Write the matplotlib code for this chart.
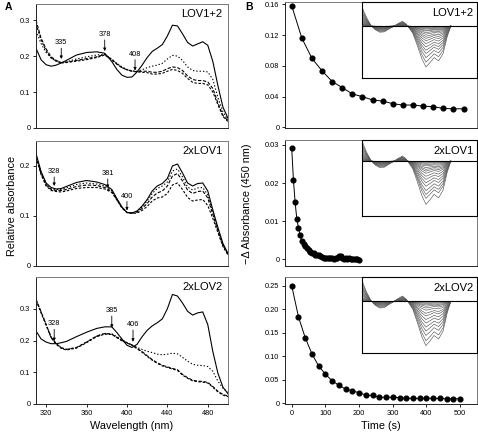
import matplotlib
matplotlib.use("Agg")
import matplotlib.pyplot as plt
import numpy as np

plt.rcParams['font.family'] = ['Liberation Sans', 'DejaVu Sans']

# ---- A: absorption spectra ----
wl = [310, 315, 320, 325, 330, 335, 340, 350, 360, 370, 378, 385, 390, 395, 400,
      405, 410, 415, 420, 425, 430, 435, 440, 445, 450, 455, 460, 465, 470, 475,
      480, 485, 490, 495, 500]

lov12_solid = [0.222, 0.190, 0.176, 0.172, 0.175, 0.181, 0.188, 0.203, 0.210, 0.212, 0.208, 0.185, 0.163, 0.147, 0.141,
               0.142, 0.156, 0.175, 0.196, 0.213, 0.222, 0.232, 0.256, 0.286, 0.284, 0.262, 0.238, 0.228, 0.234, 0.240,
               0.230, 0.185, 0.118, 0.058, 0.027]
lov12_dot = [0.270, 0.235, 0.210, 0.195, 0.186, 0.182, 0.184, 0.192, 0.198, 0.203, 0.205, 0.192, 0.180, 0.170, 0.163,
             0.159, 0.158, 0.162, 0.168, 0.172, 0.175, 0.180, 0.192, 0.202, 0.200, 0.188, 0.170, 0.160, 0.158, 0.158,
             0.156, 0.135, 0.085, 0.045, 0.022]
lov12_dashA = [0.300, 0.250, 0.220, 0.198, 0.188, 0.182, 0.183, 0.188, 0.193, 0.198, 0.205, 0.190, 0.178, 0.168, 0.162,
               0.158, 0.157, 0.158, 0.158, 0.155, 0.155, 0.158, 0.165, 0.170, 0.168, 0.160, 0.145, 0.135, 0.132, 0.132,
               0.128, 0.110, 0.070, 0.035, 0.020]
lov12_dashB = [0.290, 0.245, 0.215, 0.195, 0.186, 0.181, 0.182, 0.186, 0.190, 0.196, 0.203, 0.190, 0.178, 0.168, 0.162,
               0.158, 0.156, 0.155, 0.154, 0.150, 0.150, 0.152, 0.158, 0.163, 0.160, 0.152, 0.138, 0.127, 0.124, 0.124,
               0.120, 0.100, 0.065, 0.032, 0.018]

lov1_solid = [0.225, 0.189, 0.166, 0.157, 0.154, 0.155, 0.159, 0.167, 0.171, 0.168, 0.163, 0.153, 0.135, 0.118, 0.107,
              0.106, 0.110, 0.120, 0.133, 0.150, 0.160, 0.165, 0.175, 0.200, 0.204, 0.186, 0.166, 0.160, 0.165, 0.166,
              0.150, 0.112, 0.077, 0.045, 0.025]
lov1_dot = [0.222, 0.187, 0.164, 0.155, 0.153, 0.153, 0.156, 0.163, 0.166, 0.164, 0.160, 0.151, 0.134, 0.118, 0.107,
            0.106, 0.109, 0.118, 0.130, 0.145, 0.155, 0.160, 0.168, 0.190, 0.194, 0.178, 0.158, 0.152, 0.156, 0.157,
            0.142, 0.107, 0.074, 0.043, 0.024]
lov1_dashA = [0.220, 0.185, 0.162, 0.153, 0.151, 0.151, 0.153, 0.159, 0.162, 0.161, 0.157, 0.149, 0.133, 0.117, 0.107,
              0.106, 0.108, 0.115, 0.125, 0.138, 0.146, 0.150, 0.160, 0.180, 0.185, 0.170, 0.152, 0.145, 0.149, 0.150,
              0.136, 0.103, 0.071, 0.041, 0.023]
lov1_dashB = [0.218, 0.183, 0.160, 0.151, 0.149, 0.148, 0.150, 0.155, 0.157, 0.157, 0.154, 0.147, 0.132, 0.116, 0.107,
              0.105, 0.106, 0.111, 0.119, 0.130, 0.136, 0.138, 0.145, 0.162, 0.166, 0.153, 0.137, 0.130, 0.132, 0.133,
              0.121, 0.095, 0.067, 0.039, 0.022]

lov2_solid = [0.230, 0.205, 0.195, 0.190, 0.190, 0.193, 0.197, 0.212, 0.226, 0.238, 0.243, 0.243, 0.225, 0.205, 0.185,
              0.178, 0.188, 0.212, 0.232, 0.246, 0.256, 0.268, 0.300, 0.345, 0.340, 0.318, 0.292, 0.280, 0.287, 0.290,
              0.250, 0.165, 0.097, 0.053, 0.032]
lov2_dot = [0.330, 0.290, 0.252, 0.210, 0.190, 0.178, 0.172, 0.177, 0.195, 0.214, 0.222, 0.221, 0.212, 0.203, 0.193,
            0.186, 0.178, 0.172, 0.166, 0.162, 0.157, 0.155, 0.157, 0.160, 0.158, 0.147, 0.135, 0.125, 0.122, 0.121,
            0.118, 0.103, 0.072, 0.050, 0.037]
lov2_dashA = [0.330, 0.290, 0.250, 0.210, 0.190, 0.177, 0.172, 0.178, 0.195, 0.214, 0.222, 0.220, 0.210, 0.200, 0.193,
              0.186, 0.175, 0.165, 0.152, 0.140, 0.130, 0.122, 0.117, 0.112, 0.108, 0.093, 0.083, 0.075, 0.072, 0.071,
              0.068, 0.055, 0.040, 0.030, 0.025]
lov2_dashB = [0.327, 0.287, 0.248, 0.208, 0.188, 0.175, 0.170, 0.176, 0.193, 0.212, 0.220, 0.219, 0.209, 0.199, 0.192,
              0.185, 0.174, 0.163, 0.150, 0.138, 0.128, 0.120, 0.115, 0.110, 0.106, 0.091, 0.081, 0.073, 0.070, 0.069,
              0.066, 0.053, 0.038, 0.028, 0.023]

# isosbestic-point annotations: (wavelength, arrow tip y, text y)
lov12_marks = [(335, 0.192, 0.222), (378, 0.214, 0.245), (408, 0.160, 0.190)]
lov1_marks = [(328, 0.160, 0.178), (381, 0.156, 0.174), (400, 0.111, 0.129)]
lov2_marks = [(328, 0.198, 0.235), (385, 0.240, 0.277), (406, 0.196, 0.233)]

# ---- B: dark recovery time courses ----
t_lov12 = [0, 30, 60, 90, 120, 150, 180, 210, 240, 270, 300, 330, 360, 390, 420, 450, 480, 510]
dA_lov12 = [0.158, 0.116, 0.0896, 0.0734, 0.0595, 0.0516, 0.0433, 0.0398, 0.0354, 0.0341, 0.0306, 0.0289,
            0.0289, 0.0275, 0.0267, 0.0245, 0.0240, 0.0240]

t_lov1 = [0, 5, 10, 15, 20, 25, 30, 35, 40, 45, 50, 55, 60, 65, 70, 75, 80, 85, 90, 95, 100,
          105, 110, 115, 120, 125, 130, 135, 140, 145, 150, 155, 160, 165, 170, 175, 180, 185, 190, 195, 200]
dA_lov1 = [0.0291, 0.0208, 0.0150, 0.0106, 0.0082, 0.0063, 0.0047, 0.0039, 0.0034, 0.0030, 0.0025, 0.0019,
           0.0017, 0.0015, 0.0012, 0.0010, 0.0010, 0.0008, 0.0006, 0.0004, 0.0003, 0.0003, 0.0004, 0.0002,
           0.0003, 0.0001, 0.0003, 0.0004, 0.0007, 0.0007, 0.0003, 0.0001, 0.0002, 0.0001, 0.0002, 0.0001,
           0.0000, 0.0001, 0.0000, 0.0000, -0.0001]

t_lov2 = [0, 20, 40, 60, 80, 100, 120, 140, 160, 180, 200, 220, 240, 260, 280, 300, 320, 340, 360, 380,
          400, 420, 440, 460, 480, 500]
dA_lov2 = [0.250, 0.184, 0.1395, 0.105, 0.079, 0.0616, 0.0474, 0.038, 0.0297, 0.026, 0.022, 0.017, 0.0163,
           0.0127, 0.012, 0.0127, 0.0113, 0.0106, 0.0099, 0.0099, 0.0106, 0.0099, 0.0099, 0.0092, 0.0092, 0.0092]

# inset: light-minus-dark difference spectrum (normalised) and amplitudes of successive scans
diff_wl = [305, 315, 325, 335, 345, 355, 365, 375, 385, 395, 403, 410, 418, 428, 438, 447, 457, 465,
           475, 485, 494, 502]
diff_shape = [0.48, 0.22, 0.02, -0.09, -0.15, -0.14, -0.07, -0.01, 0.06, 0.12, 0.05, -0.05, -0.18,
              -0.48, -0.80, -1.0, -0.88, -0.77, -0.85, -0.67, -0.26, 0.0]
amp_lov12 = [1, 0.88, 0.77, 0.67, 0.59, 0.51, 0.43, 0.36, 0.30, 0.25, 0.20, 0.16, 0.12, 0.10, 0.07, 0.05, 0.03]
amp_lov1 = [1, 0.86, 0.77, 0.68, 0.58, 0.50, 0.42, 0.35, 0.28, 0.23, 0.19, 0.15, 0.11, 0.08, 0.05, 0.03]
amp_lov2 = [1, 0.89, 0.77, 0.67, 0.58, 0.49, 0.41, 0.33, 0.27, 0.20, 0.15, 0.11, 0.08, 0.05, 0.03]

names = ['LOV1+2', '2xLOV1', '2xLOV2']

W, H = 478, 437
fig = plt.figure(figsize=(W / 100, H / 100), dpi=100)


def box(x0, y0, x1, y1):
    return [x0 / W, 1 - y1 / H, (x1 - x0) / W, (y1 - y0) / H]


rows = [(4, 128), (141, 266), (277, 404)]
rows_b = [(2, 128), (140, 266), (277, 404)]
tick_fs = 5.3


def style(ax):
    for s in ['top', 'right']:
        ax.spines[s].set_color('#777777')
    for s in ['left', 'bottom']:
        ax.spines[s].set_color('#222222')
    for s in ax.spines.values():
        s.set_linewidth(0.7)
    ax.tick_params(direction='out', length=2.5, width=0.6, labelsize=tick_fs, pad=1.5)


spectra = [
    (lov12_solid, lov12_dot, lov12_dashA, lov12_dashB, lov12_marks, 0.345, [0, 0.1, 0.2, 0.3]),
    (lov1_solid, lov1_dot, lov1_dashA, lov1_dashB, lov1_marks, 0.25, [0, 0.1, 0.2]),
    (lov2_solid, lov2_dot, lov2_dashA, lov2_dashB, lov2_marks, 0.40, [0, 0.1, 0.2, 0.3]),
]

for i, (sol, dot, da, db, marks, ytop, yt) in enumerate(spectra):
    ax = fig.add_axes(box(36, rows[i][0], 228, rows[i][1]))
    style(ax)
    ax.plot(wl, sol, color='black', lw=0.8)
    ax.plot(wl, dot, color='black', lw=0.8, dashes=(1.2, 1.8))
    ax.plot(wl, da, color='black', lw=0.8, dashes=(3, 1.5))
    ax.plot(wl, db, color='black', lw=0.8, dashes=(2.2, 1.5))
    ax.set_xlim(310, 500)
    ax.set_ylim(0, ytop)
    ax.set_yticks(yt)
    ax.set_yticklabels(['0' if v == 0 else f'{v:g}' for v in yt])
    if i < 2:
        ax.set_xticks([])
    else:
        ax.set_xticks([320, 360, 400, 440, 480])
        ax.set_xlabel('Wavelength (nm)', fontsize=7.8, labelpad=3)
    for w, tip, ty in marks:
        ax.annotate('', xy=(w, tip), xytext=(w, ty),
                    arrowprops=dict(arrowstyle='-|>', color='black', lw=0.6,
                                    mutation_scale=4, shrinkA=0, shrinkB=0))
        ax.text(w, ty + 0.004 * ytop / 0.25, str(w), fontsize=5.3, ha='center', va='bottom')
    ax.text(0.97, 0.96, names[i], transform=ax.transAxes, ha='right', va='top', fontsize=8)

kinetics = [
    (t_lov12, dA_lov12, amp_lov12, (-0.001, 0.163), [0, 0.04, 0.08, 0.12, 0.16],
     ['0', '0.04', '0.08', '0.12', '0.16'], (-1.26, 0.59)),
    (t_lov1, dA_lov1, amp_lov1, (-0.0018, 0.0313), [0, 0.01, 0.02, 0.03],
     ['0', '0.01', '0.02', '0.03'], (-1.26, 0.49)),
    (t_lov2, dA_lov2, amp_lov2, (-0.002, 0.269), [0, 0.05, 0.10, 0.15, 0.20, 0.25],
     ['0', '0.05', '0.10', '0.15', '0.20', '0.25'], (-1.17, 0.55)),
]

for i, (t, y, amps, ylim, yt, ytl, inset_ylim) in enumerate(kinetics):
    ax = fig.add_axes(box(285, rows_b[i][0], 477, rows_b[i][1]))
    style(ax)
    ax.plot(t, y, color='black', lw=0.7, marker='o', ms=3.4, mec='black', mfc='black')
    ax.set_xlim(-20, 550)
    ax.set_ylim(*ylim)
    ax.set_yticks(yt)
    ax.set_yticklabels(ytl)
    if i < 2:
        ax.set_xticks([])
    else:
        ax.set_xticks([0, 100, 200, 300, 400, 500])
        ax.set_xlabel('Time (s)', fontsize=7.8, labelpad=3)

    ins = ax.inset_axes([0.40, 0.40, 0.60, 0.60])
    for s in ins.spines.values():
        s.set_color('black')
        s.set_linewidth(0.8)
    ins.set_xticks([])
    ins.set_yticks([])
    for a in amps:
        ins.plot(diff_wl, [a * v for v in diff_shape], color='0.35', lw=0.45)
    ins.axhline(0, color='black', lw=0.8)
    ins.set_xlim(305, 560)
    ins.set_ylim(*inset_ylim)
    ins.text(0.97, 0.92, names[i], transform=ins.transAxes, ha='right', va='top', fontsize=8)

fig.text(12 / W, 1 - 206 / H, 'Relative absorbance', rotation=90, ha='center', va='center', fontsize=7.8)
fig.text(247 / W, 1 - 204 / H, '\u2212\u0394 Absorbance (450 nm)', rotation=90, ha='center', va='center',
         fontsize=7.8)
fig.text(5 / W, 1 - 7 / H, 'A', fontsize=7.5, fontweight='bold', ha='left', va='center')
fig.text(245 / W, 1 - 7 / H, 'B', fontsize=7.5, fontweight='bold', ha='left', va='center')

fig.savefig('out.png', dpi=100)
